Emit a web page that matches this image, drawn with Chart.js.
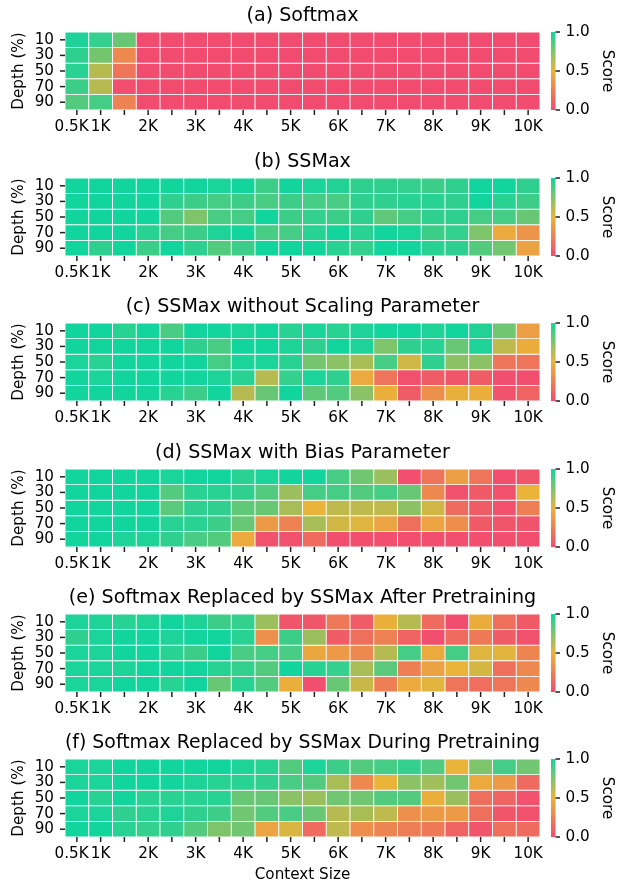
<!DOCTYPE html>
<html>
<head>
<meta charset="utf-8">
<script src="https://cdn.jsdelivr.net/npm/chart.js@4.4.1/dist/chart.umd.min.js"></script>
<style>
  html, body { margin: 0; padding: 0; background: #fff; }
  #wrap { position: relative; width: 618px; height: 882px; }
  .panel { position: absolute; left: 0; width: 618px; }
</style>
</head>
<body>
<div id="wrap"></div>
<script>
// ---------------- DATA ----------------
const contextSizes = ['0.5K','1K','1.5K','2K','2.5K','3K','3.5K','4K','4.5K','5K','5.5K','6K','6.5K','7K','7.5K','8K','8.5K','9K','9.5K','10K'];
const xTickLabels = ['0.5K','1K','2K','3K','4K','5K','6K','7K','8K','9K','10K'];
const depthLabels = ['10','30','50','70','90'];
const colorbarTicks = [0.0, 0.5, 1.0];
const panelTitles = [
  '(a) Softmax',
  '(b) SSMax',
  '(c) SSMax without Scaling Parameter',
  '(d) SSMax with Bias Parameter',
  '(e) Softmax Replaced by SSMax After Pretraining',
  '(f) Softmax Replaced by SSMax During Pretraining'
];

const softmax = [
  [0.97,0.92,0.80,0,0,0,0,0,0,0,0,0,0,0,0,0,0,0,0,0],
  [0.93,0.77,0.30,0,0,0,0,0,0,0,0,0,0,0,0,0,0,0,0,0],
  [0.95,0.62,0.20,0,0,0,0,0,0,0,0,0,0,0,0,0,0,0,0,0],
  [0.90,0.62,0.02,0,0,0,0,0,0,0,0,0,0,0,0,0,0,0,0,0],
  [0.85,0.88,0.27,0,0,0,0,0,0,0,0,0,0,0,0,0,0,0,0,0]
];
const ssmax = [
  [1.00,1.00,1.00,1.00,1.00,1.00,0.98,1.00,0.90,1.00,0.98,0.96,0.93,0.93,0.92,0.90,0.93,1.00,1.00,0.93],
  [1.00,1.00,1.00,1.00,0.93,0.90,0.88,0.90,0.87,0.90,0.88,0.87,0.93,0.93,0.95,0.95,0.93,1.00,0.95,0.90],
  [1.00,1.00,1.00,1.00,0.85,0.75,0.87,0.88,1.00,0.90,0.92,0.90,0.93,0.82,0.88,0.93,0.93,0.88,0.88,0.80],
  [1.00,1.00,1.00,0.95,0.88,0.90,0.97,1.00,0.87,0.88,0.95,1.00,0.95,1.00,0.98,0.90,0.92,0.75,0.45,0.35],
  [1.00,0.93,1.00,0.90,1.00,0.93,0.85,0.90,1.00,1.00,1.00,0.95,0.92,1.00,1.00,0.95,0.93,0.85,0.78,0.42]
];
const ssmaxNoScaling = [
  [1.00,1.00,0.95,1.00,0.87,1.00,1.00,0.98,1.00,0.95,0.98,0.95,0.97,1.00,1.00,0.97,1.00,0.96,0.78,0.40],
  [1.00,1.00,1.00,1.00,1.00,0.93,0.87,1.00,1.00,0.97,0.93,1.00,0.97,0.75,0.93,0.95,0.80,0.97,0.60,0.47],
  [0.98,0.95,1.00,1.00,1.00,1.00,0.88,0.98,0.98,0.95,0.77,0.72,0.65,0.88,0.56,0.93,0.72,0.72,0.20,0.20],
  [1.00,0.98,1.00,1.00,1.00,1.00,0.97,0.95,0.62,0.92,0.98,0.93,0.45,0.20,0.03,0.08,0.05,0.08,0.02,0.02],
  [1.00,1.00,1.00,1.00,0.95,0.90,1.00,0.62,0.80,1.00,0.82,0.85,0.72,0.48,0.08,0.33,0.48,0.48,0.04,0.12]
];
const ssmaxBias = [
  [1.00,1.00,1.00,1.00,0.98,1.00,1.00,0.95,0.98,1.00,1.00,0.88,0.78,0.68,0.02,0.20,0.40,0.20,0.02,0.05],
  [1.00,1.00,1.00,1.00,0.85,0.95,0.95,0.93,0.85,0.68,0.88,0.88,0.85,0.88,0.80,0.30,0.03,0.07,0.03,0.50],
  [1.00,1.00,1.00,1.00,0.83,0.93,0.93,0.82,0.80,0.65,0.50,0.60,0.60,0.60,0.72,0.56,0.15,0.08,0.03,0.25],
  [1.00,1.00,1.00,1.00,0.95,0.95,0.90,0.80,0.38,0.27,0.65,0.56,0.53,0.43,0.18,0.43,0.32,0.07,0.05,0.04],
  [1.00,1.00,0.97,0.97,0.93,0.87,0.85,0.45,0.03,0.03,0.15,0.02,0.02,0.02,0.02,0.02,0.02,0.02,0.02,0.02]
];
const replacedAfter = [
  [0.97,0.97,0.95,0.97,1.00,0.97,0.90,0.92,0.68,0.05,0.05,0.22,0.08,0.48,0.62,0.15,0.01,0.47,0.18,0.07],
  [0.93,0.98,1.00,1.00,0.97,1.00,1.00,0.95,0.33,0.90,0.68,0.08,0.18,0.26,0.12,0.02,0.15,0.22,0.08,0.03],
  [0.98,0.97,1.00,1.00,0.95,0.90,1.00,0.87,0.88,0.87,0.44,0.38,0.30,0.62,0.88,0.45,0.88,0.53,0.52,0.28],
  [0.98,0.98,0.97,1.00,1.00,1.00,0.95,0.92,0.85,1.00,0.95,0.92,0.65,0.83,0.25,0.42,0.50,0.55,0.18,0.30],
  [0.98,0.98,1.00,1.00,0.95,1.00,0.80,0.95,0.85,0.48,0.02,0.80,0.58,0.25,0.45,0.52,0.20,0.17,0.20,0.30]
];
const replacedDuring = [
  [0.98,0.98,1.00,1.00,1.00,1.00,1.00,0.97,0.95,0.85,0.98,0.90,0.85,0.88,0.92,0.85,0.50,0.75,0.88,0.78],
  [0.98,0.98,1.00,1.00,1.00,0.97,0.95,0.95,0.93,0.87,0.85,0.65,0.30,0.50,0.72,0.67,0.78,0.45,0.38,0.15],
  [1.00,0.95,1.00,0.95,0.95,0.95,0.95,0.80,0.80,0.72,0.68,0.78,0.78,0.85,0.85,0.48,0.68,0.18,0.12,0.03],
  [0.98,0.98,0.93,0.95,0.97,0.93,0.90,0.78,0.85,0.87,0.80,0.62,0.65,0.60,0.33,0.38,0.38,0.18,0.05,0.03],
  [1.00,1.00,0.95,0.92,0.93,0.85,0.75,0.78,0.43,0.54,0.15,0.60,0.32,0.28,0.25,0.22,0.12,0.05,0.18,0.15]
];
const panelValues = [softmax, ssmax, ssmaxNoScaling, ssmaxBias, replacedAfter, replacedDuring];

// ---------------- STYLE ----------------
const C0 = [241, 75, 111];
const C05 = [234, 179, 57];
const C1 = [17, 213, 157];
function rgb(c) { return 'rgb(' + c.map(Math.round).join(',') + ')'; }
function scoreColor(v) {
  const a = v < 0.5 ? C0 : C05;
  const b = v < 0.5 ? C05 : C1;
  const t = v < 0.5 ? v / 0.5 : (v - 0.5) / 0.5;
  return rgb([0,1,2].map(k => a[k] + (b[k] - a[k]) * t));
}

const FONT = 'DejaVu Sans';
const TICK_SIZE = 15.2;
const TITLE_SIZE = 19.1;
const TICK_LEN = 5;
const TICK_W = 1.5;
const TICK_COLOR = '#222';
Chart.defaults.font.family = FONT;
Chart.defaults.color = '#000';

// tick marks (at the scales' own tick pixels) + colorbar
const axisDecor = {
  id: 'axisDecor',
  afterDraw(chart) {
    const ctx = chart.ctx;
    const { top, bottom, left, right } = chart.chartArea;
    const xs = chart.scales.x, ys = chart.scales.y;
    ctx.save();
    ctx.fillStyle = TICK_COLOR;
    for (let i = 0; i < xs.ticks.length; i++) {
      const px = xs.getPixelForTick(i);
      ctx.fillRect(px - TICK_W / 2, bottom, TICK_W, TICK_LEN);
    }
    for (let i = 0; i < ys.ticks.length; i++) {
      const py = ys.getPixelForTick(i);
      ctx.fillRect(left - TICK_LEN, py - TICK_W / 2, TICK_LEN, TICK_W);
    }

    // colorbar
    const x0 = right + 11, w = 4.5;
    const g = ctx.createLinearGradient(0, bottom, 0, top);
    g.addColorStop(0, rgb(C0));
    g.addColorStop(0.5, rgb(C05));
    g.addColorStop(1, rgb(C1));
    ctx.fillStyle = g;
    ctx.fillRect(x0, top, w, bottom - top);
    ctx.font = TICK_SIZE + 'px "' + FONT + '"';
    ctx.textAlign = 'left';
    ctx.textBaseline = 'middle';
    colorbarTicks.forEach(v => {
      const y = bottom - v * (bottom - top);
      ctx.fillStyle = TICK_COLOR;
      ctx.fillRect(x0 + w, y - TICK_W / 2, 4.5, TICK_W);
      ctx.fillStyle = '#000';
      ctx.fillText(v.toFixed(1), x0 + w + 10, y);
    });
    ctx.translate(607, (top + bottom) / 2);
    ctx.rotate(Math.PI / 2);
    ctx.textAlign = 'center';
    ctx.fillText('Score', 0, 0);
    ctx.restore();
  }
};

const tops = [0, 146, 291, 437, 582, 727];
const wrap = document.getElementById('wrap');

panelValues.forEach((values, p) => {
  const isLast = p === panelValues.length - 1;
  const h = isLast ? 157 : 146;
  const div = document.createElement('div');
  div.className = 'panel';
  div.style.top = tops[p] + 'px';
  div.style.height = h + 'px';
  const canvas = document.createElement('canvas');
  canvas.width = 618;
  canvas.height = h;
  canvas.style.width = '618px';
  canvas.style.height = h + 'px';
  div.appendChild(canvas);
  wrap.appendChild(div);

  const datasets = values.map((rowVals, r) => ({
    label: depthLabels[r],
    data: rowVals.map(() => [r, r + 1]),
    backgroundColor: rowVals.map(scoreColor),
    borderColor: '#ffffff',
    borderWidth: 0.8,
    borderSkipped: false,
    grouped: false,
    barPercentage: 1,
    categoryPercentage: 1
  }));

  new Chart(canvas, {
    type: 'bar',
    data: { labels: contextSizes, datasets },
    options: {
      responsive: false,
      animation: false,
      events: [],
      layout: { padding: { left: 0, right: 78, top: 0, bottom: 0 } },
      plugins: {
        legend: { display: false },
        tooltip: { enabled: false },
        title: {
          display: true,
          text: panelTitles[p],
          fullSize: false,
          color: '#000',
          font: { size: TITLE_SIZE, weight: 'normal', family: FONT },
          padding: { top: 5, bottom: 4.1 }
        }
      },
      scales: {
        x: {
          type: 'category',
          offset: true,
          grid: { display: false, drawTicks: false },
          border: { display: false },
          ticks: {
            autoSkip: false, maxRotation: 0, minRotation: 0, padding: 8,
            font: { size: TICK_SIZE }, color: '#000',
            callback(v, i) {
              const l = contextSizes[i];
              if (!xTickLabels.includes(l)) return '';
              return i === 0 ? l + '\u2002\u2009' : l;
            }
          },
          title: isLast ? { display: true, text: 'Context Size', color: '#000', font: { size: TICK_SIZE }, padding: { top: 0, bottom: 0 } } : { display: false },
          afterFit(s) { s.height = isLast ? 47 : 36; }
        },
        y: {
          type: 'linear',
          min: 0, max: 5,
          reverse: true,
          afterBuildTicks(s) { s.ticks = depthLabels.map((_, i) => ({ value: i + 0.5 })); },
          grid: { display: false, drawTicks: false },
          border: { display: false },
          ticks: {
            autoSkip: false, padding: 11, font: { size: TICK_SIZE }, color: '#000',
            callback(v, i) { return depthLabels[i]; }
          },
          title: { display: true, text: 'Depth (%)', color: '#000', font: { size: TICK_SIZE }, padding: { top: 10, bottom: 0 } },
          afterFit(s) { s.width = 65; }
        }
      }
    },
    plugins: [axisDecor]
  });
});
</script>
</body>
</html>
